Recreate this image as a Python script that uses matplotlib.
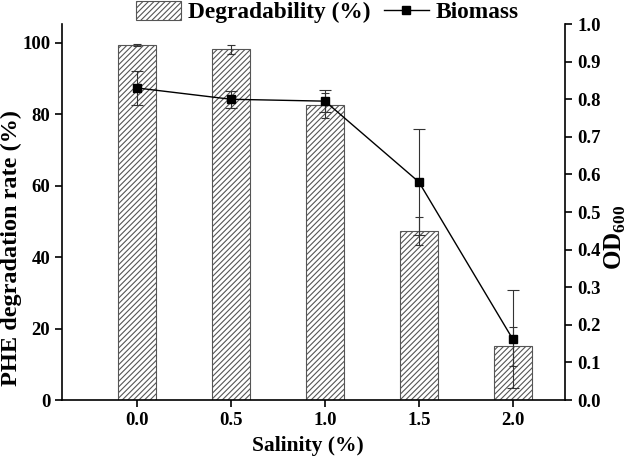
import numpy as np
import matplotlib
matplotlib.use("Agg")
import matplotlib.pyplot as plt
from matplotlib.lines import Line2D

plt.rcParams["font.family"] = ["Liberation Serif", "DejaVu Serif"]
plt.rcParams["font.weight"] = "bold"
plt.rcParams["mathtext.fontset"] = "custom"
plt.rcParams["mathtext.rm"] = "Liberation Serif:bold"
plt.rcParams["mathtext.bf"] = "Liberation Serif:bold"
plt.rcParams["hatch.linewidth"] = 0.8

# ── Data ───────────────────────────────────────────────────────────────────
salinity = [0.0, 0.5, 1.0, 1.5, 2.0]
degradability = [99.5, 98.2, 82.5, 47.3, 15.0]
degradability_err = [0.3, 1.2, 3.5, 4.0, 5.5]
biomass = [0.83, 0.80, 0.795, 0.58, 0.162]
biomass_err = [0.045, 0.022, 0.03, 0.14, 0.13]
x_ticklabels = ["0.0", "0.5", "1.0", "1.5", "2.0"]

fig = plt.figure(figsize=(6.3, 4.63), dpi=100)
ax = fig.add_axes([0.0984, 0.136, 0.799, 0.812])
ax2 = ax.twinx()

bars = ax.bar(salinity, degradability, width=0.2, color="white",
              edgecolor="#555555", hatch="//////", linewidth=0.8,
              label="Degradability (%)", zorder=2)
ax.errorbar(salinity, degradability, yerr=degradability_err, fmt="none",
            ecolor="#333333", elinewidth=0.8, capsize=3, capthick=0.8, zorder=3)

ax2.errorbar(salinity, biomass, yerr=biomass_err, fmt="s-", color="black",
             ecolor="#333333", elinewidth=0.8, capsize=4, capthick=0.8,
             markersize=5.5, linewidth=1)
line_handle = Line2D([], [], color="black", marker="s", markersize=5.5,
                     linewidth=1, label="Biomass")

ax.set_xlim(-0.4, 2.28)
ax.set_ylim(0, 105.3)
ax2.set_ylim(0, 1.0)

ax.set_xticks(salinity)
ax.set_xticklabels(x_ticklabels)
ax.set_yticks(np.arange(0, 101, 20))
ax2.set_yticks(np.arange(0, 1.01, 0.1))
ax2.set_yticklabels([f"{v:.1f}" for v in np.arange(0, 1.01, 0.1)])

for a in (ax, ax2):
    a.spines["top"].set_visible(False)
    for s in a.spines.values():
        s.set_linewidth(1.2)
    a.tick_params(direction="out", length=5, width=1.2, labelsize=13.5)
ax.spines["right"].set_visible(False)
ax2.spines["left"].set_visible(False)
ax2.spines["bottom"].set_visible(False)

ax.set_xlabel("Salinity (%)", fontsize=15.5, fontweight="bold")
ax.xaxis.set_label_coords(0.489, -0.095)
ax.set_ylabel("PHE degradation rate (%)", fontsize=17.5, fontweight="bold")
ax.yaxis.set_label_coords(-0.080, 0.404)
ax2.set_ylabel(r"OD$_{600}$", fontsize=18, fontweight="bold")
ax2.yaxis.set_label_coords(1.074, 0.433)

fig.legend(handles=[bars, line_handle], loc="center", bbox_to_anchor=(0.52, 0.974),
           ncol=2, frameon=False, fontsize=16.8, handlelength=1.9, handleheight=0.9,
           columnspacing=0.6, handletextpad=0.3, borderaxespad=0)

fig.savefig("out.png", dpi=100)
